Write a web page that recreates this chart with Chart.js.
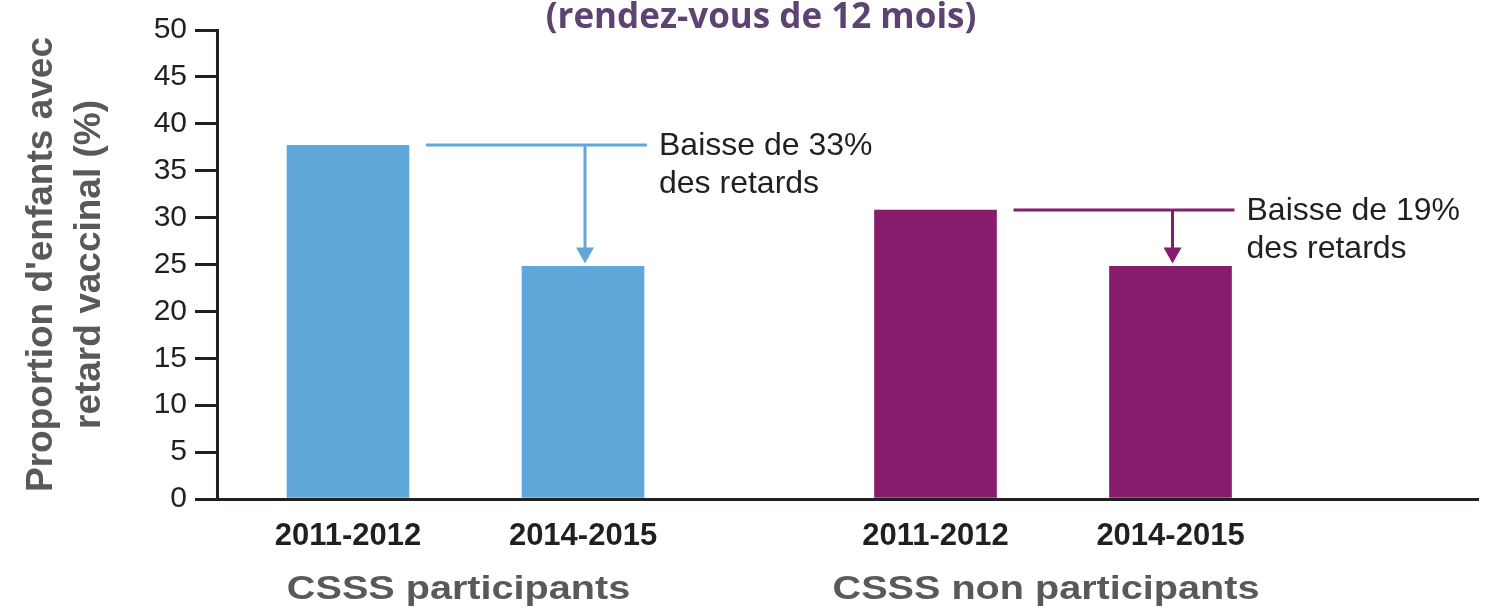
<!DOCTYPE html>
<html>
<head>
<meta charset="utf-8">
<script src="https://cdn.jsdelivr.net/npm/chart.js@4"></script>
<style>
  html, body { margin: 0; padding: 0; background: #fff; overflow: hidden; }
</style>
</head>
<body>
<canvas id="delayChart" width="1499" height="612"></canvas>
<script>
// Data
const periods = ['2011-2012', '2014-2015', '2011-2012', '2014-2015'];
const groups = ['CSSS participants', 'CSSS non participants'];
const delayPct = [37.7, 24.8, 30.8, 24.8];
const yTickValues = [0, 5, 10, 15, 20, 25, 30, 35, 40, 45, 50];
const dropNotes = [['Baisse de 33%', 'des retards'], ['Baisse de 19%', 'des retards']];
const chartTitle = '(rendez-vous de 12 mois)';
const yTitle = ["Proportion d'enfants avec", 'retard vaccinal (%)'];

// Layout: slot of each bar on the x axis, pairs of bars per group
const slots = [0, 2, 5, 7];
const pairs = [[0, 1], [2, 3]];
const BLUE = '#61a8da';
const PURPLE = '#861c6b';
const barColors = [BLUE, BLUE, PURPLE, PURPLE];
const INK = '#231f20';
const GREY = '#58595b';
const FONT = '"Liberation Sans", Arial, sans-serif';
const BAR_W = 122;

// Title, group labels and the drop annotations
const extrasPlugin = {
    id: 'extras',
    afterDatasetsDraw(chart) {
        const ctx = chart.ctx;
        const xs = chart.scales.x;
        const ys = chart.scales.y;

        ctx.save();
        // title (top is cut off in the reference)
        ctx.font = 'bold 35px "Open Sans", sans-serif';
        ctx.fillStyle = '#5d4371';
        ctx.textAlign = 'center';
        ctx.textBaseline = 'middle';
        ctx.fillText(chartTitle, 761, 18);

        // group labels (wide bold face in the reference)
        ctx.fillStyle = GREY;
        ctx.font = 'bold 33px ' + FONT;
        pairs.forEach((p, g) => {
            const cx = (xs.getPixelForValue(slots[p[0]]) + xs.getPixelForValue(slots[p[1]])) / 2;
            ctx.save();
            ctx.translate(cx - 7, 590);
            ctx.scale(1.2, 1);
            ctx.fillText(groups[g], 0, 0);
            ctx.restore();
        });

        // drop annotations
        pairs.forEach((p, g) => {
            const color = barColors[p[0]];
            const c0 = xs.getPixelForValue(slots[p[0]]);
            const c1 = xs.getPixelForValue(slots[p[1]]);
            const yFrom = Math.round(ys.getPixelForValue(delayPct[p[0]]));
            const yTo = ys.getPixelForValue(delayPct[p[1]]);
            const ax = c1 + 2;

            ctx.strokeStyle = color;
            ctx.fillStyle = color;
            ctx.lineWidth = 3;
            ctx.beginPath();
            ctx.moveTo(c0 + BAR_W / 2 + 17, yFrom);
            ctx.lineTo(c1 + BAR_W / 2 + 3, yFrom);
            ctx.moveTo(ax, yFrom);
            ctx.lineTo(ax, yTo - 17);
            ctx.stroke();

            ctx.beginPath();
            ctx.moveTo(ax - 9, yTo - 19);
            ctx.lineTo(ax + 9, yTo - 19);
            ctx.lineTo(ax, yTo - 3);
            ctx.closePath();
            ctx.fill();

            ctx.fillStyle = INK;
            ctx.font = '32px ' + FONT;
            ctx.textAlign = 'left';
            ctx.textBaseline = 'middle';
            const tx = c1 + BAR_W / 2 + 15;
            dropNotes[g].forEach((line, k) => {
                ctx.fillText(line, tx, yFrom + 1 + k * 38);
            });
        });
        ctx.restore();
    }
};

new Chart(document.getElementById('delayChart').getContext('2d'), {
    type: 'bar',
    data: {
        datasets: [{
            data: slots.map((s, i) => ({ x: s, y: delayPct[i] })),
            backgroundColor: barColors,
            borderWidth: 0,
            barThickness: BAR_W
        }]
    },
    options: {
        responsive: false,
        animation: false,
        devicePixelRatio: 1,
        layout: { padding: { top: 30, right: 21, left: 0, bottom: 0 } },
        plugins: {
            legend: { display: false },
            tooltip: { enabled: false },
            title: { display: false }
        },
        scales: {
            x: {
                type: 'linear',
                offset: false,
                min: -1.115,
                max: 9.617,
                grid: { display: false, drawTicks: false, tickLength: 0, offset: false },
                border: { display: true, color: INK, width: 3 },
                ticks: {
                    autoSkip: false,
                    maxRotation: 0,
                    padding: 19,
                    color: INK,
                    font: { family: FONT, size: 31, weight: 'bold' },
                    callback: (v) => {
                        const i = slots.indexOf(v);
                        return i >= 0 ? periods[i] : '';
                    }
                },
                afterBuildTicks: (scale) => {
                    scale.ticks = slots.map(v => ({ value: v }));
                },
                afterFit: (scale) => { scale.height = 113; }
            },
            y: {
                min: 0,
                max: 50,
                grid: {
                    drawOnChartArea: false,
                    drawTicks: true,
                    tickLength: 22,
                    lineWidth: 3,
                    tickWidth: 3,
                    color: INK,
                    tickColor: INK
                },
                border: { display: true, color: INK, width: 3 },
                ticks: {
                    padding: 8,
                    color: INK,
                    font: { family: FONT, size: 30 }
                },
                afterBuildTicks: (scale) => {
                    scale.ticks = yTickValues.map(v => ({ value: v }));
                },
                title: {
                    display: true,
                    text: yTitle,
                    color: GREY,
                    font: { family: FONT, size: 37, weight: 'bold', lineHeight: 1.3 },
                    padding: { top: 18, bottom: 0 }
                },
                afterFit: (scale) => { scale.width = 217; }
            }
        }
    },
    plugins: [extrasPlugin]
});
</script>
</body>
</html>
